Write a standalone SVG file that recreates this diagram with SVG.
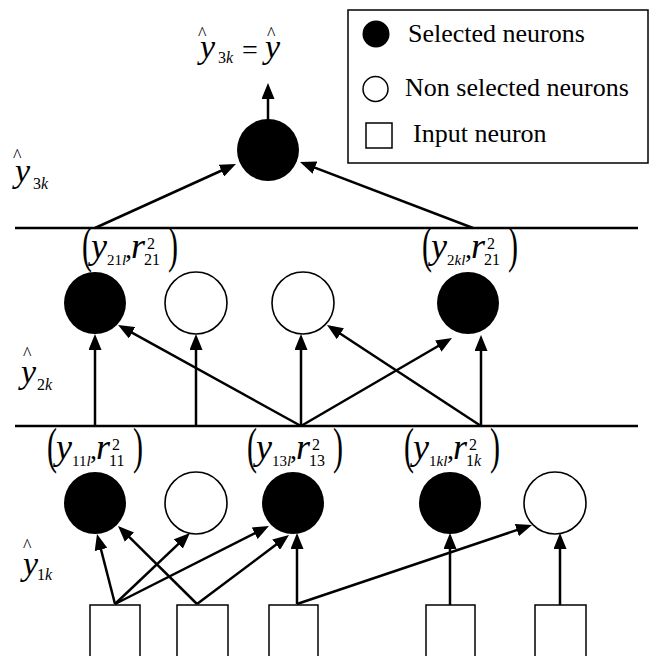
<svg xmlns="http://www.w3.org/2000/svg" width="650" height="656" viewBox="0 0 650 656" font-family="'Liberation Serif', 'Times New Roman', serif">
<style>
text{fill:#000}
.i{font-style:italic}
.edge{stroke:#000;stroke-width:2.5;fill:none;marker-end:url(#ah)}
.sel{fill:#000}
.non{fill:#fff;stroke:#000;stroke-width:1.6}
.inp{fill:#fff;stroke:#000;stroke-width:1.5}
.rule{stroke:#000;stroke-width:2.5}
</style>
<defs>
<marker id="ah" markerUnits="userSpaceOnUse" markerWidth="16" markerHeight="13" refX="10" refY="6.5" orient="auto">
<path d="M0,0 L16,6.5 L0,13 z" fill="#000"/>
</marker>
</defs>
<rect width="650" height="656" fill="#fff"/>

<g id="legend">
<rect x="348" y="10" width="300" height="153" fill="#fff" stroke="#000" stroke-width="1.5"/>
<circle cx="376" cy="34" r="13.5" fill="#000"/>
<text x="408" y="42" font-size="26">Selected neurons</text>
<circle cx="375.5" cy="89" r="12.5" fill="#fff" stroke="#000" stroke-width="1.5"/>
<text x="405" y="96" font-size="26">Non selected neurons</text>
<rect x="366" y="123" width="26" height="25" fill="#fff" stroke="#000" stroke-width="1.5"/>
<text x="413" y="142" font-size="26">Input neuron</text>
</g>

<g id="rules">
<line class="rule" x1="15" y1="228" x2="638" y2="228"/>
<line class="rule" x1="15" y1="426" x2="638" y2="426"/>
</g>

<g id="layer-labels">
<text><tspan x="198" y="40" font-size="18">^</tspan><tspan x="200" y="58" class="i" font-size="34">y</tspan><tspan x="218" y="63" font-size="16">3</tspan><tspan class="i" font-size="16">k</tspan><tspan x="242" y="59" font-size="28">=</tspan><tspan x="267" y="40" font-size="18">^</tspan><tspan x="265" y="58" class="i" font-size="34">y</tspan></text>

<text><tspan x="13" y="162" font-size="18">^</tspan><tspan x="15" y="182" class="i" font-size="34">y</tspan><tspan x="33" y="189" font-size="16">3</tspan><tspan class="i" font-size="16">k</tspan></text>

<text><tspan x="23" y="360" font-size="18">^</tspan><tspan x="21" y="383" class="i" font-size="34">y</tspan><tspan x="37" y="390" font-size="16">2</tspan><tspan class="i" font-size="16">k</tspan></text>

<text><tspan x="23" y="552" font-size="18">^</tspan><tspan x="23" y="575" class="i" font-size="34">y</tspan><tspan x="37" y="580" font-size="16">1</tspan><tspan class="i" font-size="16">k</tspan></text>
</g>

<g id="connectors">
<line class="edge" x1="268" y1="120" x2="268" y2="89"/>
<line class="edge" x1="95" y1="228" x2="230.5" y2="166.5"/>
<line class="edge" x1="473" y1="228" x2="305.6" y2="164.1"/>

<line class="edge" x1="95" y1="426" x2="95" y2="340"/>
<line class="edge" x1="196" y1="426" x2="196" y2="340"/>
<line class="edge" x1="301" y1="426" x2="301" y2="340"/>
<line class="edge" x1="301" y1="426" x2="123.3" y2="327.9"/>
<line class="edge" x1="301" y1="426" x2="446.8" y2="341"/>
<line class="edge" x1="481" y1="426" x2="481" y2="341"/>
<line class="edge" x1="481" y1="426" x2="332" y2="328.3"/>

<line class="edge" x1="115" y1="604" x2="98.5" y2="539.8"/>
<line class="edge" x1="115" y1="604" x2="185.6" y2="537.1"/>
<line class="edge" x1="115" y1="604" x2="263.6" y2="528.7"/>
<line class="edge" x1="197" y1="604" x2="122.3" y2="530.2"/>
<line class="edge" x1="197" y1="604" x2="284.2" y2="538.6"/>
<line class="edge" x1="297" y1="604" x2="297" y2="539"/>
<line class="edge" x1="297" y1="604" x2="526.3" y2="526.9"/>
<line class="edge" x1="450" y1="605" x2="450" y2="539"/>
<line class="edge" x1="560" y1="605" x2="560" y2="539"/>
</g>

<g id="out"><circle class="sel" cx="268" cy="150" r="31"/></g>

<g id="h21"><circle class="sel" cx="95" cy="303" r="31"/></g>
<g id="h22"><circle class="non" cx="196" cy="303" r="31"/></g>
<g id="h23"><circle class="non" cx="303" cy="303" r="31"/></g>
<g id="h24"><circle class="sel" cx="468" cy="303" r="31"/></g>

<g id="h11"><circle class="sel" cx="95" cy="503" r="31"/></g>
<g id="h12"><circle class="non" cx="196" cy="503" r="31"/></g>
<g id="h13"><circle class="sel" cx="293" cy="503" r="31"/></g>
<g id="h14"><circle class="sel" cx="450" cy="503" r="31"/></g>
<g id="h15"><circle class="non" cx="555" cy="503" r="31"/></g>

<g id="in1"><rect class="inp" x="90" y="605" width="50" height="60"/></g>
<g id="in2"><rect class="inp" x="177" y="605" width="51" height="60"/></g>
<g id="in3"><rect class="inp" x="269" y="605" width="49" height="60"/></g>
<g id="in4"><rect class="inp" x="426" y="605" width="49" height="60"/></g>
<g id="in5"><rect class="inp" x="535" y="605" width="51" height="60"/></g>

<g id="lbl21" transform="translate(82,227)">
<text x="0" y="35" font-size="50" textLength="10" lengthAdjust="spacingAndGlyphs">(</text>
<text><tspan x="9" y="31" class="i" font-size="36">y</tspan><tspan x="25" y="38" font-size="15">21</tspan><tspan class="i" font-size="15">l</tspan><tspan x="43" y="31" font-size="28">,</tspan><tspan x="49" y="31" class="i" font-size="36">r</tspan><tspan x="65" y="22" font-size="16">2</tspan><tspan x="62" y="38" font-size="16">21</tspan></text>
<text x="86" y="35" font-size="50" textLength="10" lengthAdjust="spacingAndGlyphs">)</text>
</g>
<g id="lbl2k" transform="translate(422,227)">
<text x="0" y="35" font-size="50" textLength="10" lengthAdjust="spacingAndGlyphs">(</text>
<text><tspan x="9" y="31" class="i" font-size="36">y</tspan><tspan x="25" y="38" font-size="15">2</tspan><tspan class="i" font-size="15">kl</tspan><tspan x="43" y="31" font-size="28">,</tspan><tspan x="49" y="31" class="i" font-size="36">r</tspan><tspan x="65" y="22" font-size="16">2</tspan><tspan x="62" y="38" font-size="16">21</tspan></text>
<text x="86" y="35" font-size="50" textLength="10" lengthAdjust="spacingAndGlyphs">)</text>
</g>
<g id="lbl11" transform="translate(47,428)">
<text x="0" y="35" font-size="50" textLength="10" lengthAdjust="spacingAndGlyphs">(</text>
<text><tspan x="9" y="31" class="i" font-size="36">y</tspan><tspan x="25" y="38" font-size="15">11</tspan><tspan class="i" font-size="15">l</tspan><tspan x="43" y="31" font-size="28">,</tspan><tspan x="49" y="31" class="i" font-size="36">r</tspan><tspan x="65" y="22" font-size="16">2</tspan><tspan x="62" y="38" font-size="16">11</tspan></text>
<text x="86" y="35" font-size="50" textLength="10" lengthAdjust="spacingAndGlyphs">)</text>
</g>
<g id="lbl13" transform="translate(247,428)">
<text x="0" y="35" font-size="50" textLength="10" lengthAdjust="spacingAndGlyphs">(</text>
<text><tspan x="9" y="31" class="i" font-size="36">y</tspan><tspan x="25" y="38" font-size="15">13</tspan><tspan class="i" font-size="15">l</tspan><tspan x="43" y="31" font-size="28">,</tspan><tspan x="49" y="31" class="i" font-size="36">r</tspan><tspan x="65" y="22" font-size="16">2</tspan><tspan x="62" y="38" font-size="16">13</tspan></text>
<text x="86" y="35" font-size="50" textLength="10" lengthAdjust="spacingAndGlyphs">)</text>
</g>
<g id="lbl1k" transform="translate(404,428)">
<text x="0" y="35" font-size="50" textLength="10" lengthAdjust="spacingAndGlyphs">(</text>
<text><tspan x="9" y="31" class="i" font-size="36">y</tspan><tspan x="25" y="38" font-size="15">1</tspan><tspan class="i" font-size="15">kl</tspan><tspan x="43" y="31" font-size="28">,</tspan><tspan x="49" y="31" class="i" font-size="36">r</tspan><tspan x="65" y="22" font-size="16">2</tspan><tspan x="62" y="38" font-size="16">1</tspan><tspan class="i" font-size="16">k</tspan></text>
<text x="86" y="35" font-size="50" textLength="10" lengthAdjust="spacingAndGlyphs">)</text>
</g>
</svg>
